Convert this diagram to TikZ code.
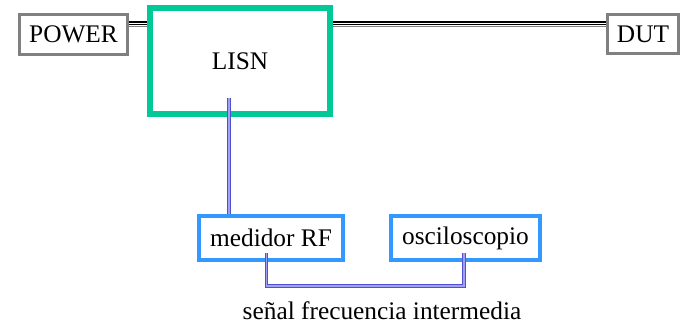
\documentclass[tikz,border=0pt]{standalone}
\usepackage{fontspec}
\setmainfont{Liberation Serif}
\definecolor{lisngreen}{RGB}{0,200,150}
\definecolor{boxblue}{RGB}{51,153,255}
\definecolor{wireblue}{RGB}{80,80,210}
\definecolor{wirelight}{RGB}{160,160,245}
\tikzset{
	unit/.style={draw=gray,line width=2.25pt,inner sep=0pt},
	lisnbox/.style={draw=lisngreen,line width=4.5pt,inner sep=0pt,minimum width=135pt,minimum height=79.5pt},
	meter/.style={draw=boxblue,line width=3pt,inner sep=0pt,minimum height=33pt},
	cable/.style={draw=black,double=white,line width=1.2pt,double distance=0.5pt,
		preaction={draw=gray,line width=0.8pt,transform canvas={yshift=-2.3pt}}},
	signal/.style={draw=wireblue,double=wirelight,line width=0.75pt,double distance=0.9pt}
}
\begin{document}
\begin{tikzpicture}[x=0.75pt,y=-0.75pt,font=\fontsize{19}{22}\selectfont]
	\useasboundingbox (0,0) rectangle (685,326);
	\path (73.5,34.5) node[unit,minimum width=81pt,minimum height=30pt] (POWER) {POWER}
	(643,34) node[unit,minimum width=53.25pt,minimum height=29.25pt] (DUT) {DUT}
	(240,61) node[lisnbox] (LISN) {LISN}
	(271,238) node[meter,minimum width=108pt] (RF) {medidor RF}
	(465.5,238) node[meter,minimum width=111.75pt] (OSC) {osciloscopio}
	(382,311) node (IF) {señal frecuencia intermedia}
	(0,23) coordinate (bus)
	(229,98) coordinate (tap)
	(266.5,253) coordinate (ifL)
	(464,253) coordinate (ifR);
	% power line
	\draw[cable] (POWER.east |- bus)--(LISN.west |- bus);
	\draw[cable] (LISN.east |- bus)--(DUT.west |- bus);
	% RF path
	\draw[signal] (tap)--(tap |- RF.north);
	\draw[signal] (ifL)--++(0,33) -| (ifR);
\end{tikzpicture}
\end{document}
